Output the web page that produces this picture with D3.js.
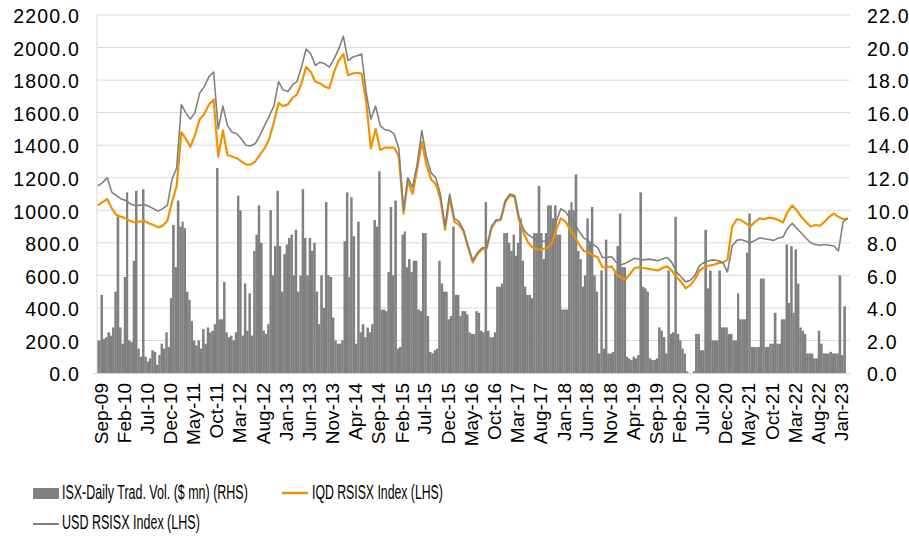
<!DOCTYPE html>
<html>
<head>
<meta charset="utf-8">
<script src="https://cdn.jsdelivr.net/npm/d3@7"></script>
<style>
  body { margin: 0; background: #fff; }
  svg { display: block; font-family: "Liberation Sans", Arial, sans-serif; }
</style>
</head>
<body>
<div id="chart"></div>
<script>
// monthly index levels, Aug-09 .. Feb-23 (one value per month)
const usdIndex = [
  1150, 1170, 1200, 1110, 1090,
  1070, 1060, 1040, 1030, 1030, 1035, 1025, 1010, 995, 1010, 1030, 1190,
  1260, 1650, 1600, 1560, 1600, 1720, 1760, 1820, 1850, 1500, 1640, 1520,
  1480, 1470, 1440, 1400, 1395, 1410, 1460, 1520, 1580, 1640, 1790, 1740,
  1730, 1770, 1790, 1880, 1990, 1960, 1890, 1910, 1900, 1880, 1930, 1990,
  2070, 1920, 1940, 1950, 1960, 1720, 1560, 1640, 1520, 1495, 1490, 1470,
  1380, 1000, 1200, 1140, 1280, 1490, 1330, 1230, 1200, 1100, 900, 1100,
  950, 930, 880, 780, 690, 740, 770, 770, 900, 940, 945, 1060,
  1100, 1090, 960, 880, 850, 830, 810, 810, 810, 830, 930,
  1010, 990, 950, 920, 870, 830, 810, 790, 770, 710, 710, 715,
  680, 665, 675, 690, 705, 700, 695, 700, 695, 690, 700, 710,
  680, 620, 590, 560, 570, 600, 660, 680, 690, 695, 690, 680,
  620, 780, 815, 820, 810, 800, 815, 830, 825, 820, 815, 830,
  835, 890, 920, 890, 860, 830, 800, 790, 785, 790, 785, 780,
  750, 930, 950
];

const iqdIndex = [
  1030, 1050, 1070, 1010, 970,
  960, 950, 935, 925, 930, 935, 920, 910, 895, 905, 935, 1050,
  1150, 1480, 1440, 1390, 1460, 1560, 1590, 1650, 1680, 1330, 1490, 1340,
  1330, 1320, 1300, 1280, 1280, 1300, 1340, 1380, 1440, 1540, 1660, 1640,
  1650, 1690, 1710, 1780, 1880, 1850, 1790, 1780, 1760, 1750, 1850, 1920,
  1960, 1830, 1840, 1845, 1840, 1660, 1380, 1500, 1370, 1385, 1385, 1385,
  1330, 980, 1180, 1100, 1250, 1420, 1280, 1190, 1160, 1070, 880, 1080,
  930, 910, 870, 770, 680, 730, 760, 765, 890, 935, 940, 1050,
  1090, 1080, 940, 860, 800, 770, 760, 760, 770, 790, 880,
  950, 930, 880, 840, 790, 750, 740, 725, 710, 650, 650, 655,
  610, 585, 575, 610, 645, 650, 645, 640, 635, 630, 645, 655,
  630, 590, 560, 520, 540, 575, 630, 650, 660, 665, 675, 680,
  695, 900, 945, 940, 920, 900, 930, 950, 945, 955, 950, 940,
  925, 990, 1030, 1000, 960, 930, 900, 910, 905, 930, 960, 980,
  960, 945, 950
];

// daily trading volume ($ mn), two readings per month (1st and 2nd half), Aug-09 .. Feb-23
const tradeVol = [
  2.0, 2.0, 4.8, 2.1, 2.2, 2.5, 2.3, 2.8, 5.0, 9.6,
  2.8, 1.8, 5.9, 11.1, 2.0, 1.9, 6.9, 11.2, 1.5, 1.0, 11.3, 1.0, 0.7, 0.9, 1.4, 1.3, 0.5, 1.1, 1.8, 1.5, 2.5, 1.6, 4.6, 9.1,
  6.5, 10.6, 9.0, 9.3, 8.9, 5.0, 4.5, 3.2, 2.0, 1.7, 2.0, 1.5, 2.7, 1.8, 2.8, 2.5, 2.6, 3.0, 12.6, 3.3, 3.3, 5.6, 2.5, 2.2,
  2.3, 2.0, 2.5, 10.9, 10.0, 2.3, 5.5, 2.6, 4.9, 2.3, 7.5, 8.5, 10.3, 8.0, 2.6, 2.4, 3.0, 10.0, 6.0, 7.8, 11.2, 7.8, 5.0, 7.3,
  7.9, 8.3, 8.5, 6.0, 8.8, 5.0, 6.0, 11.3, 8.3, 6.0, 8.3, 7.5, 8.0, 5.0, 3.0, 6.0, 4.0, 10.5, 6.0, 5.9, 3.4, 2.0, 1.8, 1.8,
  2.0, 8.1, 11.1, 5.9, 10.8, 8.4, 1.8, 9.3, 2.5, 3.0, 2.2, 2.8, 2.5, 3.0, 9.4, 9.0, 12.4, 3.9, 3.9, 3.8, 6.2, 10.2, 6.0, 10.6,
  1.5, 1.6, 8.5, 8.7, 6.5, 7.0, 6.2, 6.9, 6.9, 3.9, 3.8, 8.6, 8.6, 3.5, 1.3, 1.2, 1.4, 1.5, 6.9, 5.5, 5.0, 5.0, 3.3, 3.5,
  9.0, 4.8, 4.8, 3.5, 3.8, 3.8, 3.6, 2.5, 2.4, 2.4, 3.8, 3.7, 2.6, 2.5, 10.5, 2.6, 2.2, 2.2, 2.5, 5.3, 5.3, 5.5, 8.6, 8.6,
  8.0, 7.5, 8.5, 7.2, 8.0, 9.5, 6.9, 5.3, 4.8, 4.8, 4.6, 8.6, 8.6, 11.5, 8.6, 7.0, 8.6, 10.3, 10.3, 9.5, 10.3, 8.5,
  8.5, 3.9, 3.9, 3.9, 10.0, 10.5, 10.0, 12.2, 7.5, 7.0, 5.3, 6.0, 9.5, 8.0, 10.2, 6.0, 5.0, 1.2, 6.3, 1.5, 8.2, 1.2, 1.2, 1.3,
  6.3, 7.8, 9.8, 6.5, 6.5, 1.0, 0.9, 0.8, 1.0, 0.9, 1.1, 11.1, 5.3, 5.2, 5.0, 0.9, 0.8, 0.8, 0.9, 2.8, 2.6, 2.2, 1.2, 6.3,
  2.4, 2.5, 9.6, 2.4, 2.0, 1.5, 1.2, 0.1, 0.0, 0.0, 0.1, 2.4, 2.4, 1.4, 1.4, 8.8, 5.2, 6.3, 2.0, 2.0, 2.0, 6.3, 2.8, 2.8,
  2.8, 2.4, 2.4, 2.0, 2.0, 4.9, 3.3, 3.3, 3.3, 7.4, 9.8, 1.6, 1.6, 1.6, 1.6, 5.8, 5.8, 1.6, 1.6, 1.8, 1.8, 3.7, 1.8, 1.8,
  3.3, 3.3, 7.9, 4.3, 7.8, 3.7, 7.6, 5.5, 2.8, 2.6, 2.4, 1.2, 1.2, 1.2, 0.9, 0.9, 2.6, 1.8, 1.2, 1.2, 1.2, 1.3, 1.2, 1.2,
  1.2, 6.0, 1.1, 4.1
];

const tickLabels = [
  "Sep-09", "Feb-10", "Jul-10", "Dec-10", "May-11", "Oct-11", "Mar-12", "Aug-12", "Jan-13",
  "Jun-13", "Nov-13", "Apr-14", "Sep-14", "Feb-15", "Jul-15", "Dec-15", "May-16", "Oct-16",
  "Mar-17", "Aug-17", "Jan-18", "Jun-18", "Nov-18", "Apr-19", "Sep-19", "Feb-20", "Jul-20",
  "Dec-20", "May-21", "Oct-21", "Mar-22", "Aug-22", "Jan-23"
];

const leftTicks = d3.range(0, 2201, 200);
const rightTicks = d3.range(0, 22.1, 2);

const margin = { top: 15, left: 97, bottom: 163, right: 59 };
const width = 909 - margin.left - margin.right;
const height = 536 - margin.top - margin.bottom;

const svg = d3.select("#chart")
  .append("svg")
    .attr("width", 909)
    .attr("height", 536);

const g = svg.append("g")
    .attr("transform", `translate(${margin.left}, ${margin.top})`);

const parseMonth = d3.timeParse("%b-%y");

const xScale = d3.scaleTime()
  .domain([new Date(2009, 7, 9), new Date(2023, 2, 1)])
  .range([0, width]);

const yLeft = d3.scaleLinear().domain([0, 2200]).range([height, 0]);
const yRight = d3.scaleLinear().domain([0, 22]).range([height, 0]);

g.append("clipPath").attr("id", "plot-clip")
  .append("rect").attr("width", width).attr("height", height + 1);

// gridlines
g.append("g")
  .selectAll("line")
  .data(leftTicks.slice(1))
  .enter()
  .append("line")
    .attr("x1", 0).attr("x2", width)
    .attr("y1", d => yLeft(d)).attr("y2", d => yLeft(d))
    .attr("stroke", "#d9d9d9").attr("stroke-width", 1);

// volume bars
const bars = tradeVol.map((v, i) => {
  const m = Math.floor(i / 2);
  const half = i % 2;
  const start = new Date(2009, 7 + m, half ? 16 : 1);
  const end = half ? new Date(2009, 8 + m, 1) : new Date(2009, 7 + m, 16);
  return { start, end, v };
});

g.append("g")
    .attr("clip-path", "url(#plot-clip)")
  .selectAll("rect")
  .data(bars)
  .enter()
  .append("rect")
    .attr("x", d => xScale(d.start))
    .attr("width", d => xScale(d.end) - xScale(d.start) + 0.2)
    .attr("y", d => yRight(d.v))
    .attr("height", d => height - yRight(d.v))
    .attr("fill", "#808080");

// axis lines
g.append("line")
  .attr("x1", 0).attr("x2", 0).attr("y1", 0).attr("y2", height)
  .attr("stroke", "#d9d9d9");
g.append("line")
  .attr("x1", -4).attr("x2", width).attr("y1", height + 0.5).attr("y2", height + 0.5)
  .attr("stroke", "#d9d9d9");

// index lines
const monthDate = i => new Date(2009, 7 + i, 15);

const line = d3.line()
  .x((d, i) => xScale(monthDate(i)))
  .y(d => yLeft(d));

const lines = g.append("g").attr("clip-path", "url(#plot-clip)");

lines.append("path")
  .datum(iqdIndex)
  .attr("d", line)
  .attr("fill", "none")
  .attr("stroke", "#f39200")
  .attr("stroke-width", 2.2)
  .attr("stroke-linejoin", "round");

lines.append("path")
  .datum(usdIndex)
  .attr("d", line)
  .attr("fill", "none")
  .attr("stroke", "#808080")
  .attr("stroke-width", 1.6)
  .attr("stroke-linejoin", "round");

// y axes
const leftAxis = d3.axisLeft(yLeft)
  .tickValues(leftTicks)
  .tickFormat(d3.format(".1f"))
  .tickSize(0)
  .tickPadding(17);

g.append("g")
  .call(leftAxis)
  .call(a => a.select(".domain").remove())
  .selectAll("text")
    .attr("dy", "0.4em")
    .style("font-size", "19.5px")
    .style("letter-spacing", "1.2px")
    .attr("fill", "#000");

const rightAxis = d3.axisRight(yRight)
  .tickValues(rightTicks)
  .tickFormat(d3.format(".1f"))
  .tickSize(0)
  .tickPadding(17);

g.append("g")
    .attr("transform", `translate(${width}, 0)`)
  .call(rightAxis)
  .call(a => a.select(".domain").remove())
  .selectAll("text")
    .attr("dy", "0.4em")
    .style("font-size", "19.5px")
    .style("letter-spacing", "1.2px")
    .attr("fill", "#000");

// x axis
const xAxis = d3.axisBottom(xScale)
  .tickValues(tickLabels.map(parseMonth))
  .tickFormat(d3.timeFormat("%b-%y"))
  .tickSize(0);

g.append("g")
    .attr("transform", `translate(0, ${height})`)
  .call(xAxis)
  .call(a => a.select(".domain").remove())
  .selectAll("text")
    .attr("transform", "rotate(-90)")
    .attr("x", -10)
    .attr("y", 0)
    .attr("dy", "0.35em")
    .style("text-anchor", "end")
    .style("font-size", "19px")
    .attr("fill", "#000");

// legend (text is narrow in the original, squeeze it horizontally)
const legend = svg.append("g").style("font-size", "19.5px");

function legendText(label, x, y, w) {
  const t = legend.append("text").text(label);
  const natural = t.node().getComputedTextLength();
  t.attr("transform", `translate(${x}, ${y}) scale(${w / natural}, 1)`);
}

legend.append("rect")
  .attr("x", 33).attr("y", 488).attr("width", 26).attr("height", 11)
  .attr("fill", "#808080");
legendText("ISX-Daily Trad. Vol. ($ mn) (RHS)", 62, 499, 186);

legend.append("line")
  .attr("x1", 282).attr("x2", 308).attr("y1", 493).attr("y2", 493)
  .attr("stroke", "#f39200").attr("stroke-width", 2.5);
legendText("IQD RSISX Index (LHS)", 312, 499, 131);

legend.append("line")
  .attr("x1", 33).attr("x2", 59).attr("y1", 524).attr("y2", 524)
  .attr("stroke", "#808080").attr("stroke-width", 2);
legendText("USD RSISX Index (LHS)", 62, 529, 138);
</script>
</body>
</html>
